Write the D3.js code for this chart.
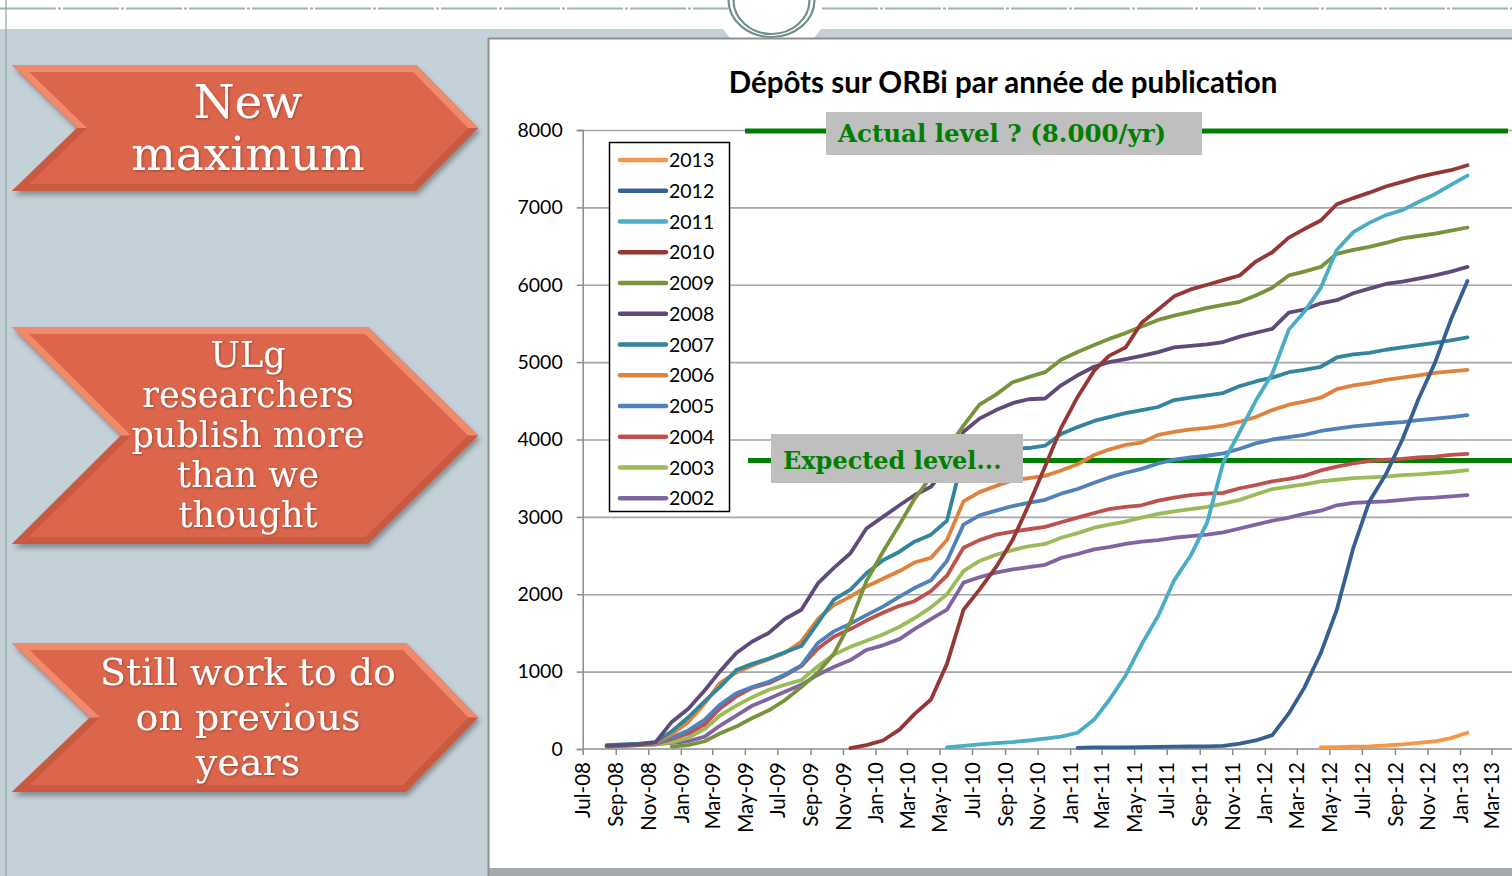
<!DOCTYPE html>
<html><head><meta charset="utf-8">
<script src="https://cdn.jsdelivr.net/npm/d3@7"></script>
<style>body{margin:0;background:#fff;overflow:hidden}svg{display:block}</style>
</head><body><svg id="c" width="1512" height="876"></svg>
<script>
// ---------- data ----------
const years = ["2002","2003","2004","2005","2006","2007","2008","2009","2010","2011","2012","2013"];
const seriesStart = ["2008-08-15","2008-08-15","2008-08-15","2008-08-15","2008-08-15","2008-08-15","2008-08-15","2008-12-15","2009-11-15","2010-05-15","2011-01-15","2012-04-15"];
const v2002 = [30,40,50,60,80,100,160,300,430,560,650,740,830,960,1060,1150,1280,1340,1420,1550,1680,1800,2150,2220,2280,2320,2350,2380,2470,2520,2580,2610,2650,2680,2700,2730,2750,2770,2800,2850,2900,2950,2990,3040,3080,3150,3180,3190,3200,3220,3240,3250,3265,3280];
const v2003 = [30,40,50,60,85,145,260,430,560,670,765,830,890,1070,1220,1320,1400,1480,1580,1690,1830,2000,2300,2430,2510,2570,2620,2650,2730,2790,2860,2900,2940,2990,3040,3070,3100,3130,3170,3220,3290,3360,3390,3420,3460,3480,3500,3510,3520,3540,3550,3565,3580,3605];
const v2004 = [35,45,55,70,130,200,320,520,680,790,850,950,1070,1300,1450,1550,1660,1760,1850,1910,2040,2240,2600,2700,2770,2810,2840,2870,2930,2990,3050,3100,3130,3150,3210,3250,3280,3300,3310,3370,3410,3460,3490,3530,3600,3650,3690,3720,3740,3750,3770,3780,3800,3815];
const v2005 = [40,50,60,75,150,240,380,570,720,800,870,960,1080,1370,1520,1620,1730,1840,1970,2080,2180,2430,2900,3020,3080,3140,3180,3220,3300,3360,3440,3510,3570,3620,3690,3740,3770,3790,3820,3880,3950,4000,4030,4060,4110,4140,4170,4190,4210,4225,4250,4270,4290,4315];
const v2006 = [40,50,60,80,190,350,590,850,990,1080,1160,1240,1390,1680,1860,1970,2100,2200,2300,2410,2470,2700,3200,3320,3400,3470,3500,3530,3600,3680,3800,3870,3930,3960,4060,4100,4130,4150,4180,4230,4290,4380,4450,4490,4540,4650,4700,4730,4770,4800,4830,4860,4880,4900];
const v2007 = [50,60,70,90,230,410,620,800,1020,1100,1170,1250,1330,1630,1930,2060,2270,2440,2550,2680,2770,2950,3800,3860,3870,3880,3890,3920,4070,4160,4240,4290,4340,4380,4420,4510,4540,4570,4600,4690,4750,4800,4870,4900,4940,5060,5100,5120,5160,5190,5220,5250,5280,5320];
const v2008 = [40,50,60,90,350,520,760,1000,1240,1390,1500,1680,1800,2140,2340,2530,2850,3000,3150,3280,3390,3650,4100,4270,4380,4470,4520,4530,4700,4830,4940,5000,5040,5080,5130,5190,5210,5230,5260,5330,5380,5430,5640,5680,5760,5800,5890,5950,6010,6040,6080,6120,6170,6230];
const v2009 = [30,50,100,200,290,400,500,630,800,990,1230,1640,2170,2550,2900,3230,3520,3880,4180,4450,4580,4740,4806,4870,5030,5130,5220,5300,5375,5460,5545,5600,5650,5700,5740,5780,5860,5960,6120,6170,6230,6400,6450,6490,6540,6600,6630,6660,6700,6740];
const v2010 = [10,50,110,250,450,640,1100,1800,2060,2350,2700,3150,3650,4150,4550,4890,5080,5190,5510,5680,5850,5940,6000,6060,6120,6300,6420,6610,6720,6830,7040,7120,7190,7270,7330,7390,7440,7480,7545];
const v2011 = [20,40,60,75,90,110,135,160,210,380,630,950,1350,1720,2180,2500,2930,3700,4100,4500,4850,5420,5650,5960,6450,6680,6800,6900,6964,7070,7170,7290,7410];
const v2012 = [15,20,20,22,25,28,30,32,35,40,70,110,180,460,790,1240,1800,2600,3200,3550,4000,4520,4990,5550,6050];
const v2013 = [20,25,30,35,45,60,80,100,140,210];
const seriesValues = [v2002,v2003,v2004,v2005,v2006,v2007,v2008,v2009,v2010,v2011,v2012,v2013];
const palette = ["#8064a2","#9bbb59","#c0504d","#4f81bd","#e0823b","#31859c","#604a7b","#77933c","#953735","#4bacc6","#376092","#f79646"];
const yTicks = [0,1000,2000,3000,4000,5000,6000,7000,8000];
const xTickDates = ["2008-07-01","2008-09-01","2008-11-01","2009-01-01","2009-03-01","2009-05-01","2009-07-01","2009-09-01","2009-11-01","2010-01-01","2010-03-01","2010-05-01","2010-07-01","2010-09-01","2010-11-01","2011-01-01","2011-03-01","2011-05-01","2011-07-01","2011-09-01","2011-11-01","2012-01-01","2012-03-01","2012-05-01","2012-07-01","2012-09-01","2012-11-01","2013-01-01","2013-03-01"];
const levelValues = [8000, 3730];
const levelLabels = ["Actual level ? (8.000/yr)", "Expected level..."];
const titleText = "Dépôts sur ORBi par année de publication";
const arrowTexts = [["New","maximum"],["ULg","researchers","publish more","than we","thought"],["Still work to do","on previous","years"]];

// ---------- drawing ----------
const svg = d3.select("#c");
const parse = d3.timeParse("%Y-%m-%d");
const defs = svg.append("defs");
const sh = defs.append("filter").attr("id","sh").attr("x","-10%").attr("y","-10%").attr("width","130%").attr("height","140%");
sh.append("feDropShadow").attr("dx",2).attr("dy",4).attr("stdDeviation",2.5).attr("flood-color","#3a3a3a").attr("flood-opacity",0.45);
const tsh = defs.append("filter").attr("id","tsh");
tsh.append("feDropShadow").attr("dx",1).attr("dy",1).attr("stdDeviation",0.8).attr("flood-color","#7a2a1a").attr("flood-opacity",0.6);

// background
svg.append("rect").attr("width",1512).attr("height",876).attr("fill","#ffffff");
svg.append("rect").attr("x",0).attr("y",29).attr("width",1512).attr("height",847).attr("fill","#c5d1d8");
svg.append("polygon").attr("points","723,29 821,29 814,38 730,38").attr("fill","#ffffff");
[[0,728],[822,1512]].forEach(([a,b])=>{
  svg.append("line").attr("x1",a).attr("x2",b).attr("y1",8.5).attr("y2",8.5)
    .attr("stroke","#9fb3b3").attr("stroke-width",2).attr("stroke-dasharray","56 2 3 2");
});
svg.append("line").attr("x1",6).attr("x2",6).attr("y1",0).attr("y2",876).attr("stroke","#8ea5a5").attr("stroke-width",1.2);
[[43,37],[38,34]].forEach(([rx,ry])=>{
  svg.append("path").attr("d",`M${771.5-rx},0 A${rx},${ry} 0 0 0 ${771.5+rx},0`)
    .attr("fill","none").attr("stroke","#6f908d").attr("stroke-width",2.2);
});

// arrows
function offsetPoly(pts, d){
  const n = pts.length, lines=[];
  for(let i=0;i<n;i++){
    const p=pts[i], q=pts[(i+1)%n];
    const dx=q[0]-p[0], dy=q[1]-p[1], L=Math.hypot(dx,dy);
    const nx=-dy/L*d, ny=dx/L*d;
    lines.push([[p[0]+nx,p[1]+ny],[q[0]+nx,q[1]+ny]]);
  }
  const out=[];
  for(let i=0;i<n;i++){
    const a=lines[(i-1+n)%n], b=lines[i];
    const x1=a[0][0],y1=a[0][1],x2=a[1][0],y2=a[1][1],x3=b[0][0],y3=b[0][1],x4=b[1][0],y4=b[1][1];
    const den=(x1-x2)*(y3-y4)-(y1-y2)*(x3-x4);
    const t=((x1-x3)*(y3-y4)-(y1-y3)*(x3-x4))/den;
    out.push([x1+t*(x2-x1), y1+t*(y2-y1)]);
  }
  return out;
}
const arrowGeo = [
  {top:65,bottom:191,notch:77,shoulder:416,fs:47,base:[118,170]},
  {top:327,bottom:544,notch:121,shoulder:368,fs:35,base:[367,407,447,487,527]},
  {top:643,bottom:792,notch:90,shoulder:406,fs:38,base:[685,730,775]}
];
arrowGeo.forEach((g,i)=>{
  const mid=(g.top+g.bottom)/2;
  const pts=[[12,g.top],[g.shoulder,g.top],[478,mid],[g.shoulder,g.bottom],[12,g.bottom],[g.notch,mid]];
  const grp=svg.append("g");
  grp.append("polygon").attr("points",pts.map(p=>p.join(",")).join(" ")).attr("fill","#b9523c").attr("filter","url(#sh)");
  grp.append("polygon").attr("points",pts.map(p=>p.join(",")).join(" ")).attr("fill","#ef8a6c");
  grp.append("polygon").attr("points",[[g.notch,mid],[478,mid],[g.shoulder,g.bottom],[12,g.bottom]].map(p=>p.join(",")).join(" ")).attr("fill","#c85a42");
  const inner=offsetPoly(pts,7);
  grp.append("polygon").attr("points",inner.map(p=>p.join(",")).join(" ")).attr("fill","#db664c");
  arrowTexts[i].forEach((t,j)=>{
    grp.append("text").attr("x",248).attr("y",g.base[j]).attr("text-anchor","middle")
      .attr("font-family","DejaVu Serif").attr("font-size",g.fs).attr("fill","#ffffff")
      .attr("filter","url(#tsh)").text(t);
  });
});

// chart box
svg.append("rect").attr("x",488).attr("y",38).attr("width",1030).attr("height",830).attr("fill","#ffffff");
svg.append("rect").attr("x",488).attr("y",868).attr("width",1030).attr("height",8).attr("fill","#a4a9ac");
svg.append("line").attr("x1",488).attr("x2",1512).attr("y1",38.5).attr("y2",38.5).attr("stroke","#8f8f8f").attr("stroke-width",2);
svg.append("line").attr("x1",488.5).attr("x2",488.5).attr("y1",38).attr("y2",876).attr("stroke","#8f8f8f").attr("stroke-width",2);

const x = d3.scaleTime().domain([parse("2008-07-01"), parse("2013-04-01")]).range([582.7, 1508]);
const y = d3.scaleLinear().domain([0,8000]).range([749,130]);
const FONT = "Lato, 'Open Sans', sans-serif";

// grid
const grid = svg.append("g").attr("transform","translate(582.7,0)")
  .call(d3.axisLeft(y).tickValues(yTicks.filter(d=>d>0)).tickSize(-(1512-582.7)).tickFormat(""));
grid.select(".domain").remove();
grid.selectAll("line").attr("stroke","#a6a6a6").attr("stroke-width",1.6);

// y axis
const ya = svg.append("g").attr("transform","translate(582.7,0)")
  .call(d3.axisLeft(y).tickValues(yTicks).tickSize(6).tickPadding(14).tickFormat(d3.format("d")));
ya.select(".domain").attr("stroke","#8c8c8c").attr("stroke-width",1.5);
ya.selectAll(".tick line").attr("stroke","#8c8c8c").attr("stroke-width",1.5);
ya.selectAll("text").attr("font-family",FONT).attr("font-size",19.5).attr("fill","#000");

// x axis
const xa = svg.append("g").attr("transform","translate(0,749)")
  .call(d3.axisBottom(x).tickValues(xTickDates.map(parse)).tickSize(6).tickFormat(d3.timeFormat("%b-%y")));
xa.select(".domain").attr("stroke","#8c8c8c").attr("stroke-width",1.5).attr("d","M582.7,0H1512");
xa.selectAll(".tick line").attr("stroke","#8c8c8c").attr("stroke-width",1.5);
xa.selectAll("text").attr("font-family",FONT).attr("font-size",20.5).attr("fill","#000")
  .attr("transform","rotate(-90)").attr("text-anchor","end").attr("x",-13).attr("y",0).attr("dy","0.35em");

// level lines
svg.append("line").attr("x1",745).attr("x2",1508).attr("y1",y(levelValues[0])+1).attr("y2",y(levelValues[0])+1)
  .attr("stroke","#008000").attr("stroke-width",5);
svg.append("line").attr("x1",748).attr("x2",1512).attr("y1",y(levelValues[1])).attr("y2",y(levelValues[1]))
  .attr("stroke","#008000").attr("stroke-width",5);

// series
const line = d3.line().x(d=>x(d.date)).y(d=>y(d.value)).curve(d3.curveLinear);
const lines = svg.append("g");
seriesValues.forEach((vals,i)=>{
  const s = parse(seriesStart[i]);
  const pts = vals.map((v,k)=>({date:d3.timeMonth.offset(s,k), value:v}));
  lines.append("path").datum(pts).attr("d",line).attr("fill","none")
    .attr("stroke",palette[i]).attr("stroke-width",3.8).attr("stroke-linejoin","round").attr("stroke-linecap","round");
});

// level label boxes
svg.append("rect").attr("x",826).attr("y",112).attr("width",376).attr("height",43).attr("fill","#bfbfbf");
svg.append("text").attr("x",838).attr("y",142).attr("font-family","DejaVu Serif").attr("font-weight","bold")
  .attr("font-size",24.5).attr("fill","#008000").text(levelLabels[0]);
svg.append("rect").attr("x",771).attr("y",434).attr("width",252).attr("height",49).attr("fill","#bfbfbf");
svg.append("text").attr("x",783).attr("y",469).attr("font-family","DejaVu Serif").attr("font-weight","bold")
  .attr("font-size",24).attr("fill","#008000").text(levelLabels[1]);

// title
svg.append("text").attr("x",1003).attr("y",93).attr("text-anchor","middle").attr("font-family",FONT)
  .attr("font-weight","bold").attr("font-size",29.5).attr("fill","#000").text(titleText);

// legend
const lg = svg.append("g");
lg.append("rect").attr("x",609.5).attr("y",142.5).attr("width",120).attr("height",369).attr("fill","#fff").attr("stroke","#000").attr("stroke-width",1.5);
const order = years.map((d,i)=>i).reverse();
order.forEach((si,k)=>{
  const yy = 160 + k*30.75;
  lg.append("line").attr("x1",620).attr("x2",666).attr("y1",yy).attr("y2",yy).attr("stroke",palette[si]).attr("stroke-width",4.5).attr("stroke-linecap","round");
  lg.append("text").attr("x",669).attr("y",yy).attr("dy","0.36em").attr("font-family",FONT).attr("font-size",19.5).attr("fill","#000").text(years[si]);
});
</script></body></html>
